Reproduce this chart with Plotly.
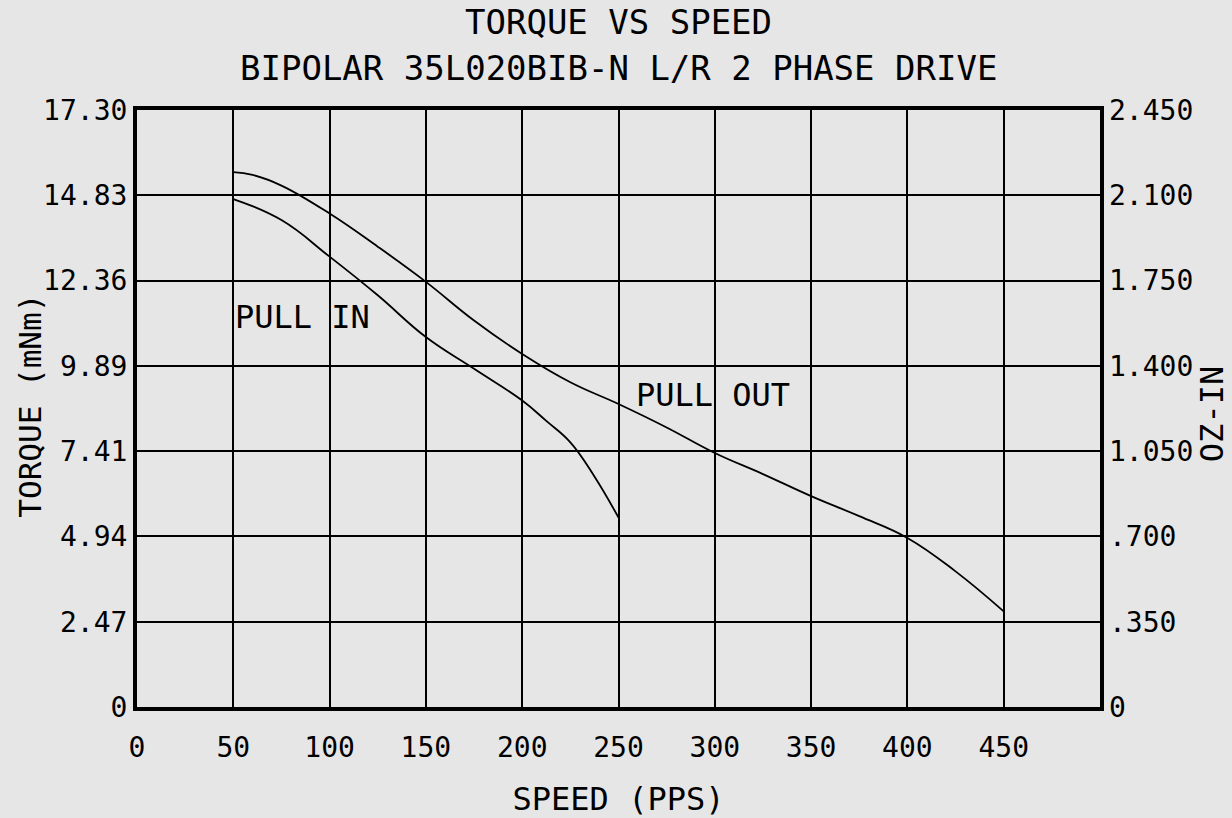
import plotly.graph_objects as go

# ---- data ----
pull_out_speed = [50, 60, 75, 100, 125, 150, 175, 200, 225, 250, 275, 300, 325, 350, 375, 400, 425, 450]
pull_out_torque = [15.50, 15.42, 15.11, 14.30, 13.34, 12.32, 11.20, 10.23, 9.41, 8.78, 8.10, 7.36, 6.75, 6.11, 5.53, 4.90, 3.93, 2.77]

pull_in_speed = [50, 75, 100, 125, 150, 175, 200, 212.5, 225, 237.5, 250]
pull_in_torque = [14.72, 14.11, 13.05, 11.93, 10.72, 9.80, 8.88, 8.29, 7.67, 6.68, 5.49]

x_ticks = [0, 50, 100, 150, 200, 250, 300, 350, 400, 450]
y_ticks = [0, 2.4714, 4.9429, 7.4143, 9.8857, 12.3571, 14.8286, 17.30]
y_labels = ["0", "2.47", "4.94", "7.41", "9.89", "12.36", "14.83", "17.30"]
y2_ticks = [0, 0.35, 0.70, 1.05, 1.40, 1.75, 2.10, 2.45]
y2_labels = ["0", ".350", ".700", "1.050", "1.400", "1.750", "2.100", "2.450"]

FONT = "DejaVu Sans Mono"
BG = "#e6e6e6"

fig = go.Figure()
fig.add_trace(go.Scatter(x=pull_out_speed, y=pull_out_torque, mode="lines",
                         line=dict(color="black", width=1.8, shape="spline", smoothing=1.2),
                         showlegend=False, hoverinfo="skip"))
fig.add_trace(go.Scatter(x=pull_in_speed, y=pull_in_torque, mode="lines",
                         line=dict(color="black", width=1.8, shape="spline", smoothing=1.2),
                         showlegend=False, hoverinfo="skip"))
# invisible trace to activate secondary axis
fig.add_trace(go.Scatter(x=[0], y=[0], yaxis="y2", mode="markers",
                         marker=dict(opacity=0), showlegend=False, hoverinfo="skip"))

fig.update_layout(
    width=1232, height=818,
    paper_bgcolor=BG, plot_bgcolor=BG,
    margin=dict(l=137, r=132, t=110, b=111),
    font=dict(family=FONT, color="black", size=28),
    xaxis=dict(range=[0, 500], tickvals=x_ticks, ticktext=[str(v) for v in x_ticks],
               showgrid=True, gridcolor="black", gridwidth=2, automargin=False,
               showline=True, linecolor="black", linewidth=4, mirror=True,
               zeroline=False, ticks="", ticklabelstandoff=12,
               tickfont=dict(family=FONT, size=28),
               title=dict(text="SPEED (PPS)", font=dict(family=FONT, size=32), standoff=30)),
    yaxis=dict(range=[0, 17.30], tickvals=y_ticks, ticktext=y_labels,
               showgrid=True, gridcolor="black", gridwidth=2, automargin=False,
               showline=True, linecolor="black", linewidth=4, mirror=True,
               zeroline=False, ticks="", ticklabelstandoff=0,
               tickfont=dict(family=FONT, size=28)),
    yaxis2=dict(range=[0, 2.45], tickvals=y2_ticks, ticktext=y2_labels,
                overlaying="y", side="right", showgrid=False, showline=False,
                zeroline=False, ticks="", ticklabelstandoff=8, automargin=False,
                tickfont=dict(family=FONT, size=28)),
    annotations=[
        dict(text="TORQUE VS SPEED", xref="paper", yref="paper", x=0.5, y=1.147,
             xanchor="center", yanchor="middle", showarrow=False,
             font=dict(family=FONT, size=34)),
        dict(text="BIPOLAR 35L020BIB-N L/R 2 PHASE DRIVE", xref="paper", yref="paper",
             x=0.5, y=1.070, xanchor="center", yanchor="middle", showarrow=False,
             font=dict(family=FONT, size=34)),
        dict(text="TORQUE (mNm)", xref="paper", yref="paper", x=-0.112, y=0.505,
             xanchor="center", yanchor="middle", textangle=-90, showarrow=False,
             font=dict(family=FONT, size=31)),
        dict(text="OZ-IN", xref="paper", yref="paper", x=1.117, y=0.49,
             xanchor="center", yanchor="middle", textangle=-90, showarrow=False,
             font=dict(family=FONT, size=32)),
        dict(text="PULL IN", x=50, y=11.31, xref="x", yref="y", xanchor="left",
             yanchor="middle", showarrow=False, font=dict(family=FONT, size=32)),
        dict(text="PULL OUT", x=258, y=9.05, xref="x", yref="y", xanchor="left",
             yanchor="middle", showarrow=False, font=dict(family=FONT, size=32)),
    ],
)

fig.write_html("out.html", config={"displayModeBar": False},
               post_script="document.body.style.margin='0';document.body.style.background='#e6e6e6';")
